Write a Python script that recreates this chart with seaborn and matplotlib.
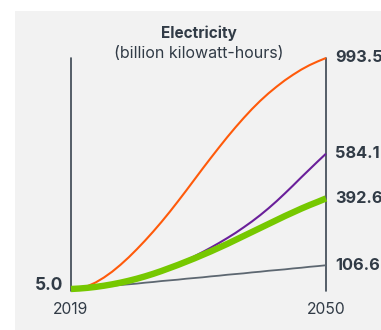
import matplotlib
matplotlib.use("Agg")
import matplotlib.pyplot as plt
import seaborn as sns
import pandas as pd
from matplotlib.patches import Rectangle

years = list(range(2019, 2051))

high = [5, 8, 17, 33, 54, 79, 108, 140, 175, 212, 251, 292, 335, 380, 426, 473,
        520, 566, 611, 655, 697, 737, 775, 810, 842, 871, 898, 922, 944, 963, 979, 993.5]
upper_mid = [5, 6, 9, 13, 18, 24, 31, 39, 48, 58, 70, 83, 97, 112, 128, 145,
             163, 182, 202, 223, 245, 269, 294, 321, 350, 381, 414, 448, 483, 517, 551, 584.1]
reference = [5, 7, 10, 14, 19, 25, 32, 40, 49, 59, 70, 82, 95, 108, 122, 136,
             151, 166, 182, 198, 215, 232, 249, 266, 283, 300, 317, 333, 349, 364, 378, 392.6]
low = [5, 7, 10, 13, 16, 19, 22, 25, 28, 32, 35, 39, 42, 45, 49, 52,
       55, 59, 62, 66, 69, 72, 76, 79, 83, 86, 89, 93, 96, 100, 103, 106.6]

series_names = ["high", "upper_mid", "low", "reference"]
series_values = [high, upper_mid, low, reference]
series_colors = {"high": "#ff5a0a", "upper_mid": "#6a1f9a", "low": "#5d6771", "reference": "#76c800"}
series_widths = {"high": 1.5, "upper_mid": 1.5, "low": 1.3, "reference": 4.6}

start_label = "5.0"
end_labels = ["993.5", "584.1", "392.6", "106.6"]
end_values = [993.5, 584.1, 392.6, 106.6]
year_labels = ["2019", "2050"]

title = "Electricity"
subtitle = "(billion kilowatt-hours)"

df = pd.DataFrame({
    "year": years * len(series_names),
    "value": sum(series_values, []),
    "series": sum([[n] * len(years) for n in series_names], []),
})

sns.set_theme(style="white")
plt.rcParams["font.family"] = ["Inter", "DejaVu Sans"]

W, H = 381, 330
fig = plt.figure(figsize=(W / 100, H / 100), dpi=100)
fig.patch.set_facecolor("white")
panel = Rectangle((15 / W, 0), 1 - 15 / W, 1 - 11 / H,
                  transform=fig.transFigure, facecolor="#f2f2f2",
                  edgecolor="none", zorder=-10)
fig.patches.append(panel)

ax = fig.add_axes([71 / W, (H - 289) / H, 255 / W, 231 / H])
ax.set_facecolor("none")
ax.set_zorder(5)

text_color = "#313b46"
axis_color = "#3a4450"

for name in series_names:
    sub = df[df["series"] == name]
    sns.lineplot(data=sub, x="year", y="value", ax=ax, color=series_colors[name],
                 linewidth=series_widths[name], legend=False, clip_on=False,
                 solid_capstyle="butt", solid_joinstyle="round")

ax.axvline(2019, ymin=-0.01, ymax=1, color=axis_color, linewidth=1.2, zorder=1, clip_on=False)
ax.axvline(2050, ymin=-0.01, ymax=1, color=axis_color, linewidth=1.2, zorder=1, clip_on=False)

ax.set_xlim(2019, 2050)
ax.set_ylim(5, 993.5)
ax.set_xticks([])
ax.set_yticks([])
ax.set_xlabel("")
ax.set_ylabel("")
for s in ax.spines.values():
    s.set_visible(False)

ax.text(2018.0, 22, start_label, ha="right", va="center", fontsize=12.5,
        fontweight="bold", color=text_color, clip_on=False)
for lab, val in zip(end_labels, end_values):
    ax.text(2051.1, val, lab, ha="left", va="center", fontsize=11.8,
            fontweight="bold", color=text_color, clip_on=False)

ax.text(2019, -0.087, year_labels[0], transform=ax.get_xaxis_transform(),
        ha="center", va="center", fontsize=11.3, color=text_color, clip_on=False)
ax.text(2050, -0.087, year_labels[1], transform=ax.get_xaxis_transform(),
        ha="center", va="center", fontsize=11.3, color=text_color, clip_on=False)

fig.text(199 / W, 1 - 33 / H, title, ha="center", va="center", fontsize=11,
         fontweight="bold", color=text_color)
fig.text(199 / W, 1 - 53 / H, subtitle, ha="center", va="center", fontsize=11.5,
         color=text_color)

fig.savefig("out.png", dpi=100, facecolor=fig.get_facecolor())
